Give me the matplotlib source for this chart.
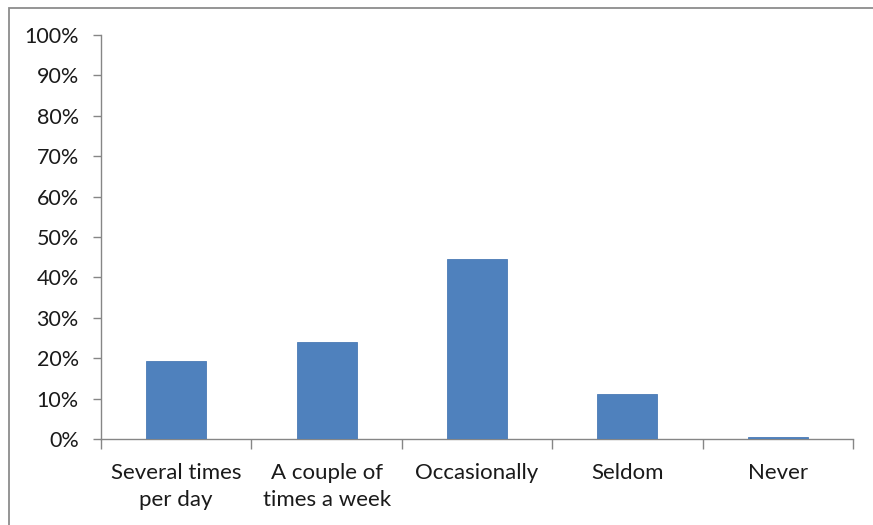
import matplotlib.pyplot as plt
from matplotlib.patches import Rectangle
from matplotlib.ticker import PercentFormatter

# survey answers: how often
categories = ['Several times\nper day', 'A couple of\ntimes a week', 'Occasionally', 'Seldom', 'Never']
shares = [19.4, 23.9, 44.5, 11.2, 0.6]

plt.rcParams['font.family'] = 'Lato'

fig = plt.figure(figsize=(8.73, 5.25), dpi=100)
ax = fig.add_axes([101 / 873, 86 / 525, 752 / 873, 404 / 525])

# chart frame (top and left edges show)
fig.patches.append(Rectangle((9 / 873, -0.1), 1.2, 0.1 + 517 / 525, transform=fig.transFigure,
                             fill=False, edgecolor='#8c8c8c', linewidth=1.3))

x = range(len(categories))
ax.bar(x, shares, width=0.4, color='#4f81bd', edgecolor='#4a7ab5', linewidth=0.6, zorder=3)

ax.set_xlim(-0.5, len(categories) - 0.5)
ax.set_ylim(0, 100)
ax.set_yticks(range(0, 101, 10))
ax.yaxis.set_major_formatter(PercentFormatter(decimals=0))

ax.set_xticks([i + 0.5 for i in range(-1, len(categories))])
ax.set_xticklabels([])
ax.set_xticks(list(x), minor=True)
ax.set_xticklabels(categories, minor=True, fontsize=16, color='#1a1a1a', linespacing=1.45)
ax.tick_params(axis='x', which='minor', length=0, pad=17)
ax.tick_params(axis='x', which='major', length=7, color='#868686', width=1)
ax.tick_params(axis='y', length=6, color='#868686', width=1, labelsize=15.5, labelcolor='#1a1a1a', pad=10)

for side in ['top', 'right']:
    ax.spines[side].set_visible(False)
for side in ['left', 'bottom']:
    ax.spines[side].set_color('#868686')
    ax.spines[side].set_linewidth(1)

fig.savefig('out.png', dpi=100)
